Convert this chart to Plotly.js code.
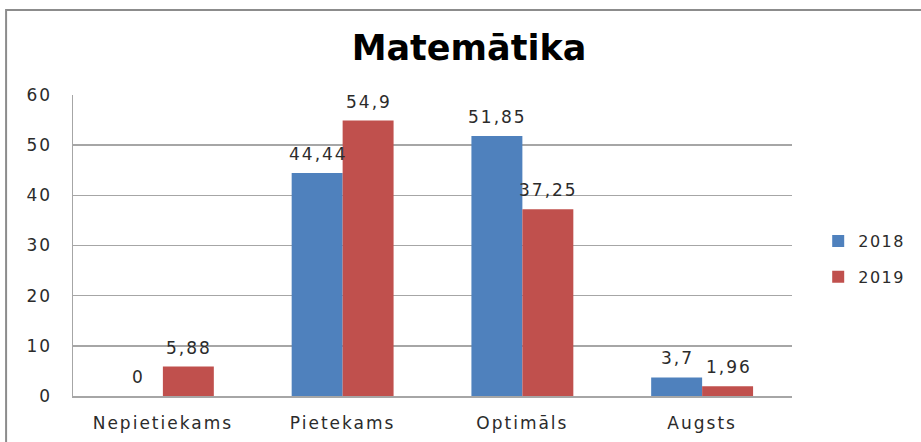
<!DOCTYPE html>
<html>
<head>
<meta charset="utf-8">
<script src="https://cdn.plot.ly/plotly-3.0.1.min.js"></script>
<style>
html, body { margin: 0; padding: 0; background: #fff; }
#chart { width: 921px; height: 442px; }
.xtick text, .ytick text, .annotation-text { letter-spacing: 2px; }
.legendtext { letter-spacing: 1.5px; }
</style>
</head>
<body>
<div id="chart"></div>
<script>
const categories = ["Nepietiekams", "Pietekams", "Optimāls", "Augsts"];
const values2018 = [0, 44.44, 51.85, 3.7];
const values2019 = [5.88, 54.9, 37.25, 1.96];
const seriesNames = ["2018", "2019"];
const yTicks = [0, 10, 20, 30, 40, 50, 60];

const fmt = v => String(v).replace('.', ',');
const labelFont = { family: "DejaVu Sans", size: 17, color: "#2b2b2b" };

const traces = [
  { type: "bar", name: seriesNames[0], x: categories, y: values2018,
    marker: { color: "#4F81BD" }, legendgroup: "a", hoverinfo: "none" },
  { type: "bar", name: seriesNames[1], x: categories, y: values2019,
    marker: { color: "#C0504D" }, legendgroup: "b", hoverinfo: "none" }
];

const annotations = [];
[values2018, values2019].forEach((vals, si) => {
  vals.forEach((v, i) => {
    annotations.push({
      x: categories[i], y: v, xref: "x", yref: "y",
      text: fmt(v), showarrow: false,
      xshift: si === 0 ? -24.5 : 26.5, yshift: 19,
      yanchor: "middle", xanchor: "center",
      font: labelFont
    });
  });
});

const layout = {
  width: 921, height: 442,
  margin: { l: 73, r: 128, t: 95, b: 46 },
  paper_bgcolor: "#ffffff", plot_bgcolor: "#ffffff",
  title: {
    text: "Matemātika",
    font: { family: "DejaVu Sans", size: 35, weight: "bold", color: "#000000" },
    xref: "container", yref: "container",
    x: 469 / 921, y: 1 - 48 / 442, xanchor: "center", yanchor: "middle"
  },
  barmode: "group",
  bargap: 0.433, bargroupgap: 0,
  xaxis: {
    type: "category",
    showline: true, linecolor: "#a6a6a6", linewidth: 1.5,
    showgrid: false, ticks: "",
    tickfont: labelFont, ticklabelstandoff: 11,
    fixedrange: true
  },
  yaxis: {
    range: [0, 60], tickvals: yTicks, ticktext: yTicks.map(String),
    showline: true, linecolor: "#a6a6a6", linewidth: 1.5,
    showgrid: true, gridcolor: "#a6a6a6", gridwidth: 1.5,
    zeroline: false, ticks: "",
    tickfont: labelFont, ticklabelstandoff: 16,
    fixedrange: true
  },
  showlegend: true,
  legend: {
    x: 1.035, y: 0.455, xanchor: "left", yanchor: "middle",
    font: { family: "DejaVu Sans", size: 16, color: "#2b2b2b" },
    traceorder: "grouped", tracegroupgap: 12,
    bgcolor: "rgba(0,0,0,0)"
  },
  annotations: annotations,
  shapes: [{
    type: "rect", xref: "paper", yref: "paper",
    x0: (6 - 73) / 720, x1: (930 - 73) / 720,
    y0: (395.7 - 450) / 300.4, y1: (395.7 - 10.5) / 300.4,
    line: { color: "#8c8c8c", width: 2 }, fillcolor: "rgba(0,0,0,0)", layer: "below"
  }]
};

Plotly.newPlot("chart", traces, layout, { displayModeBar: false, staticPlot: true });
</script>
</body>
</html>
